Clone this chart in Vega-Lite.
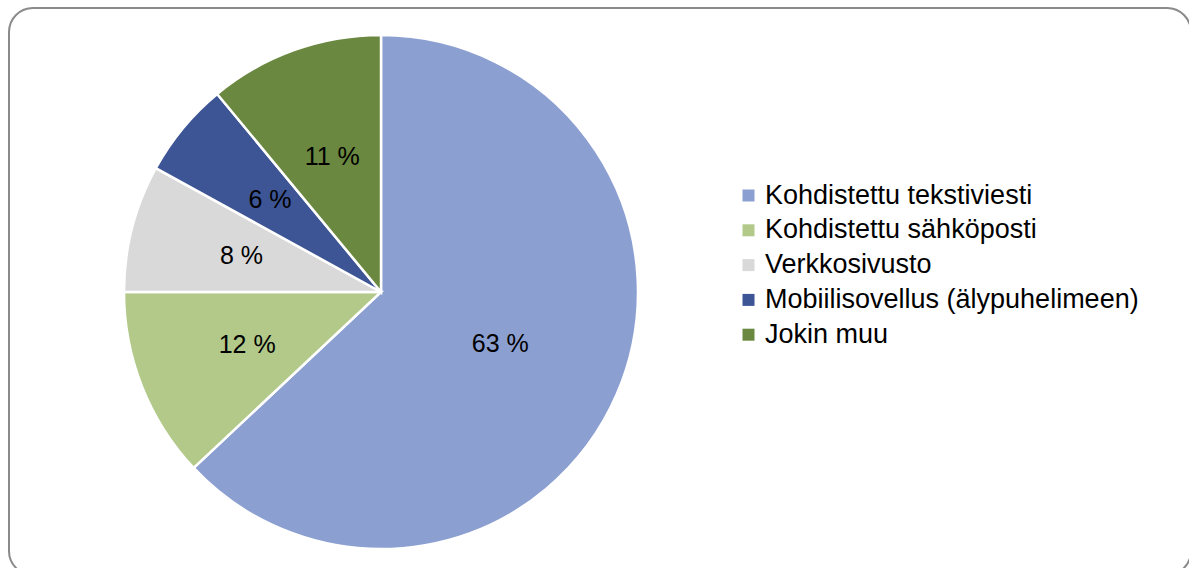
{
  "$schema": "https://vega.github.io/schema/vega-lite/v6.json",
  "width": 1182,
  "height": 567,
  "autosize": {"type": "none"},
  "padding": {"left": 9, "top": 8, "right": -2, "bottom": -7},
  "background": "white",
  "view": {"stroke": "#8a8a8a", "strokeWidth": 2, "cornerRadius": 24, "fill": "white"},
  "config": {
    "font": "Liberation Sans"
  },
  "data": {
    "values": [
      {"nro": 1, "kanava": "Kohdistettu tekstiviesti", "osuus": 63, "teksti": "63 %"},
      {"nro": 2, "kanava": "Kohdistettu sähköposti", "osuus": 12, "teksti": "12 %"},
      {"nro": 3, "kanava": "Verkkosivusto", "osuus": 8, "teksti": "8 %"},
      {"nro": 4, "kanava": "Mobiilisovellus (älypuhelimeen)", "osuus": 6, "teksti": "6 %"},
      {"nro": 5, "kanava": "Jokin muu", "osuus": 11, "teksti": "11 %"}
    ]
  },
  "encoding": {
    "theta": {"field": "osuus", "type": "quantitative", "stack": true},
    "order": {"field": "nro", "type": "quantitative", "sort": "ascending"}
  },
  "layer": [
    {
      "mark": {"type": "arc", "outerRadius": 257, "stroke": "white", "strokeWidth": 2.5, "x": 372, "y": 284},
      "encoding": {
        "color": {
          "field": "kanava",
          "type": "nominal",
          "scale": {
            "domain": ["Kohdistettu tekstiviesti", "Kohdistettu sähköposti", "Verkkosivusto", "Mobiilisovellus (älypuhelimeen)", "Jokin muu"],
            "range": ["#8b9fd1", "#b2c98a", "#d9d9d9", "#3d5594", "#6a883f"]
          },
          "legend": {
            "orient": "none",
            "legendX": 726,
            "legendY": 174,
            "title": null,
            "symbolType": "square",
            "symbolSize": 144,
            "symbolStrokeWidth": 0,
            "labelFontSize": 27,
            "labelFont": "Liberation Sans",
            "labelColor": "#000000",
            "labelOffset": 3,
            "labelLimit": 0,
            "rowPadding": 6.8,
            "padding": 0
          }
        }
      }
    },
    {
      "mark": {
        "type": "text",
        "x": 372,
        "y": 284,
        "font": "Liberation Sans",
        "fontSize": 25,
        "fill": "#000000",
        "align": "center",
        "baseline": "middle"
      },
      "encoding": {
        "detail": {"field": "kanava", "type": "nominal"},
        "radius": {"field": "osuus", "type": "quantitative", "scale": {"type": "linear", "domain": [12, 63], "range": [144, 130], "clamp": true, "zero": false}},
        "text": {"field": "teksti", "type": "nominal"}
      }
    }
  ]
}
